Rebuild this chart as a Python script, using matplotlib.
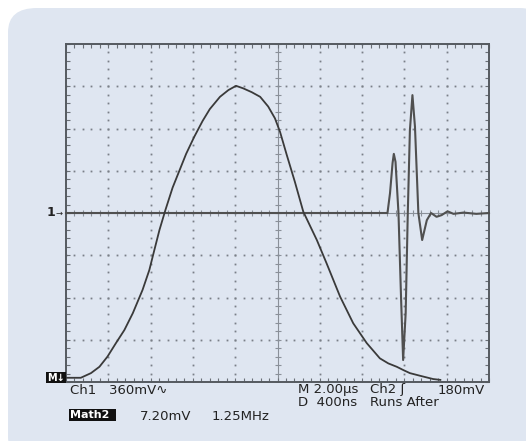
import matplotlib
matplotlib.use('Agg')
import matplotlib.pyplot as plt
from matplotlib.patches import FancyBboxPatch, Rectangle
import numpy as np

# ---------------------------------------------------------------------------
# Trace data, in screen divisions (x: 0..10, y: -4..4)
# ---------------------------------------------------------------------------
hump_x = [0.00, 0.35, 0.59, 0.79, 0.98, 1.18, 1.38, 1.58, 1.81, 1.97, 2.07,
          2.21, 2.35, 2.52, 2.68, 2.84, 3.03, 3.23, 3.40, 3.64, 3.84, 4.02,
          4.19, 4.39, 4.59, 4.78, 4.94, 5.06, 5.22, 5.41, 5.61, 5.93, 6.16,
          6.48, 6.79, 7.11, 7.42, 7.62, 7.82, 7.98, 8.13, 8.40, 8.68, 8.85]
hump_y = [-3.90, -3.90, -3.79, -3.64, -3.40, -3.08, -2.77, -2.37, -1.82,
          -1.35, -0.95, -0.40, 0.07, 0.60, 1.00, 1.40, 1.80, 2.18, 2.46,
          2.75, 2.91, 3.01, 2.95, 2.86, 2.75, 2.52, 2.24, 1.92, 1.37, 0.74,
          0.03, -0.64, -1.19, -1.98, -2.61, -3.08, -3.44, -3.56, -3.64,
          -3.72, -3.79, -3.86, -3.93, -3.95]

pulse_x = [0.00, 1.00, 2.00, 3.00, 4.00, 5.00, 6.00, 7.00, 7.60, 7.66, 7.72,
           7.75, 7.79, 7.86, 7.92, 7.97, 8.03, 8.08, 8.13, 8.19, 8.25, 8.33,
           8.42, 8.53, 8.63, 8.76, 8.88, 9.02, 9.16, 9.40, 9.70, 10.00]
pulse_y = [0.00, 0.00, 0.00, 0.00, 0.00, 0.00, 0.00, 0.00, 0.00, 0.47, 1.18,
           1.40, 1.21, 0.00, -1.98, -3.48, -2.37, 0.00, 1.96, 2.79, 2.04,
           0.00, -0.64, -0.17, 0.00, -0.09, -0.05, 0.04, -0.02, 0.01, -0.02,
           0.00]

ch1_label = 'Ch1   360mV\u223f'
time_label = 'M 2.00\u00b5s'
trig_label = 'Ch2 \u0283'
trig_level = '180mV'
delay_label = 'D  400ns'
mode_label = 'Runs After'
math_label = 'Math2'
math_scale = '7.20mV'
math_freq = '1.25MHz'

# ---------------------------------------------------------------------------
# Figure and panel
# ---------------------------------------------------------------------------
W, H = 526, 441
PANEL = '#dfe6f1'
INK = '#3a3a3a'
GRID = '#7a7f88'

fig = plt.figure(figsize=(W / 100, H / 100), dpi=100)
fig.patch.set_facecolor('white')
fig.patches.append(FancyBboxPatch((8 / W, -20 / H), 540 / W, (H - 8 + 20) / H,
                                  boxstyle='round,pad=0,rounding_size=0.055',
                                  transform=fig.transFigure, facecolor=PANEL,
                                  edgecolor='none', zorder=-5))

# graticule frame: 66..489 px horizontally, 44..382 px vertically
ax = fig.add_axes([66 / W, (H - 382) / H, 423 / W, 338 / H])
ax.set_zorder(1)
ax.set_facecolor('none')
ax.set_xlim(0, 10)
ax.set_ylim(-4, 4)
for sp in ax.spines.values():
    sp.set_color('#555a60')
    sp.set_linewidth(1.4)
ax.set_xticks(np.arange(0, 10.01, 0.2))
ax.set_yticks(np.arange(-4, 4.01, 0.2))
ax.tick_params(direction='in', length=3, width=0.8, color='#6a6f76',
               top=True, right=True, labelbottom=False, labelleft=False)

# dotted division lines
steps_x = np.arange(0, 10.01, 0.2)
steps_y = np.arange(-4, 4.01, 0.2)
for gx in range(1, 10):
    if gx == 5:
        continue
    ax.plot(np.full_like(steps_y, gx), steps_y, ls='none', marker='s',
            ms=1.3, mew=0, color=GRID, zorder=1)
for gy in range(-3, 4):
    if gy == 0:
        continue
    ax.plot(steps_x, np.full_like(steps_x, gy), ls='none', marker='s',
            ms=1.3, mew=0, color=GRID, zorder=1)

# centre crosshair with minor ticks
ax.axvline(5, color='#8a9099', lw=0.8, zorder=1)
ax.axhline(0, color='#8a9099', lw=0.8, zorder=1)
ax.plot(np.full_like(steps_y, 5), steps_y, ls='none', marker='_', ms=5,
        mew=0.8, color='#8a9099', zorder=1)
ax.plot(steps_x, np.zeros_like(steps_x), ls='none', marker='|', ms=5,
        mew=0.8, color='#8a9099', zorder=1)

# traces
ax.plot(pulse_x, pulse_y, color='#505050', lw=1.5, zorder=3,
        solid_joinstyle='round', clip_on=False)
ax.plot(hump_x, hump_y, color=INK, lw=1.3, zorder=4,
        solid_joinstyle='round', clip_on=False)

# ---------------------------------------------------------------------------
# Readouts and markers (pixel positions converted to figure coords)
# ---------------------------------------------------------------------------
def px(x, y):
    return x / W, 1 - y / H


txt = dict(fontsize=9.5, color='#222222', family='DejaVu Sans',
           va='center', ha='left', zorder=6)

fig.text(*px(47, 213), '1', **{**txt, 'fontsize': 9, 'fontweight': 'bold'})
fig.text(*px(56, 213), '\u2192', **{**txt, 'fontsize': 6})

fig.patches.append(Rectangle(px(46, 383), 20 / W, 11 / H,
                             transform=fig.transFigure, facecolor='#111',
                             edgecolor='none', zorder=2))
fig.text(*px(47, 377.5), 'M\u2193', **{**txt, 'color': 'white',
                                        'fontsize': 7, 'fontweight': 'bold'})

fig.text(*px(70, 390), ch1_label, **txt)
fig.text(*px(298, 390), time_label, **txt)
fig.text(*px(370, 390), trig_label, **txt)
fig.text(*px(438, 390), trig_level, **txt)
fig.text(*px(298, 403), delay_label, **txt)
fig.text(*px(370, 403), mode_label, **txt)

fig.patches.append(Rectangle(px(69, 421), 47 / W, 12 / H,
                             transform=fig.transFigure, facecolor='#111',
                             edgecolor='none', zorder=2))
fig.text(*px(70, 415), math_label, **{**txt, 'color': 'white',
                                      'fontsize': 8, 'fontweight': 'bold'})
fig.text(*px(140, 416), math_scale, **txt)
fig.text(*px(212, 416), math_freq, **txt)

fig.savefig('out.png', dpi=100)
